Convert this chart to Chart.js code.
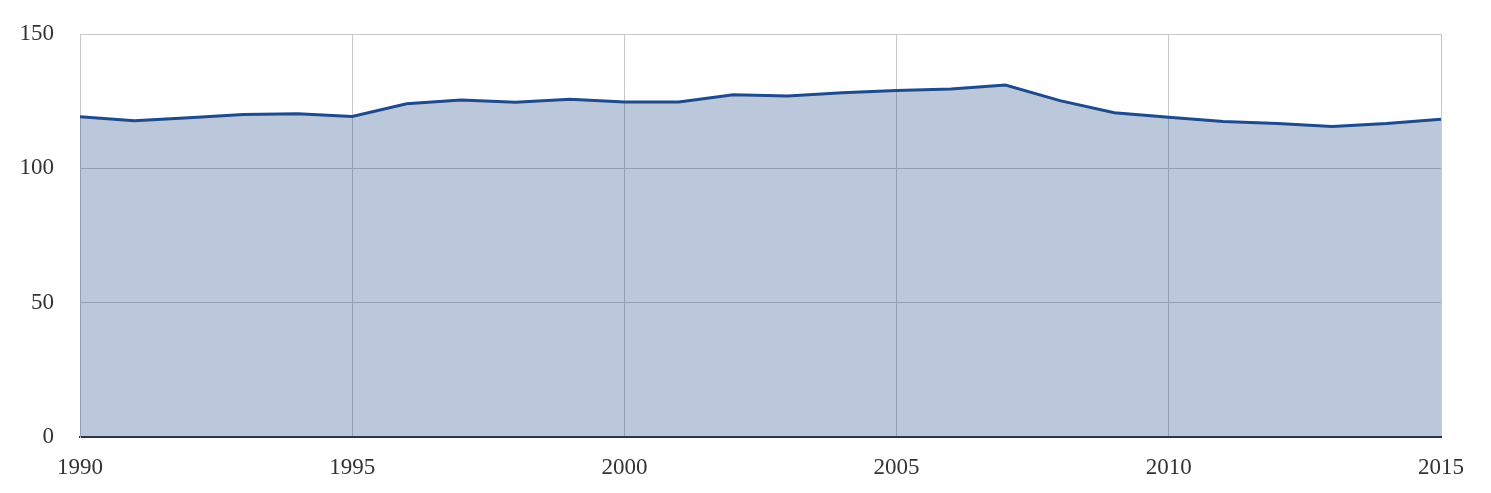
<!DOCTYPE html>
<html>
<head>
<meta charset="utf-8">
<script src="https://cdn.jsdelivr.net/npm/chart.js@4/dist/chart.umd.min.js"></script>
<style>
  html, body { margin: 0; padding: 0; background: #fff; }
  #wrap { width: 1491px; height: 493px; }
</style>
</head>
<body>
<div id="wrap"><canvas id="grafico_area"></canvas></div>
<script>
/* anos e valores */
const anos = [1990, 1991, 1992, 1993, 1994, 1995, 1996, 1997, 1998, 1999,
              2000, 2001, 2002, 2003, 2004, 2005, 2006, 2007, 2008, 2009,
              2010, 2011, 2012, 2013, 2014, 2015];
const valores = [119.2, 117.7, 118.8, 120.0, 120.3, 119.3, 124.0, 125.4, 124.6, 125.7,
                 124.7, 124.7, 127.4, 126.9, 128.1, 129.0, 129.5, 131.0, 125.2, 120.7,
                 119.0, 117.4, 116.7, 115.6, 116.7, 118.3];
const ticks_x = [1990, 1995, 2000, 2005, 2010, 2015];
const ticks_y = [0, 50, 100, 150];

const fonte = { family: "'Liberation Serif', 'DejaVu Serif', serif", size: 23 };

const data_area = {
  datasets: [{
    data: anos.map((a, i) => ({ x: a, y: valores[i] })),
    borderColor: '#1f4a8c',
    backgroundColor: 'rgba(31, 74, 140, 0.3)',
    borderWidth: 3,
    fill: 'origin',
    pointRadius: 0,
    tension: 0
  }]
};

const config_area = {
  type: 'line',
  data: data_area,
  options: {
    responsive: true,
    maintainAspectRatio: false,
    animation: false,
    layout: { padding: { top: 34, right: 50, left: 0, bottom: 0 } },
    plugins: { legend: { display: false }, tooltip: { enabled: false } },
    scales: {
      x: {
        type: 'linear',
        min: ticks_x[0],
        max: ticks_x[ticks_x.length - 1],
        afterBuildTicks: (eixo) => { eixo.ticks = ticks_x.map(v => ({ value: v })); },
        afterFit: (eixo) => { eixo.height = 56; eixo.paddingLeft = 0; eixo.paddingRight = 0; },
        ticks: { color: '#333', font: fonte, padding: 17, maxRotation: 0,
                 callback: (v) => String(v) },
        grid: { color: '#c8c8c8', lineWidth: 1, drawTicks: false },
        border: { color: '#333333', width: 2 }
      },
      y: {
        min: ticks_y[0],
        max: ticks_y[ticks_y.length - 1],
        afterBuildTicks: (eixo) => { eixo.ticks = ticks_y.map(v => ({ value: v })); },
        afterFit: (eixo) => { eixo.width = 80; eixo.paddingTop = 0; eixo.paddingBottom = 0; },
        ticks: { color: '#333', font: fonte, padding: 26 },
        grid: { color: '#c8c8c8', lineWidth: 1, drawTicks: false },
        border: { color: '#c8c8c8', width: 1 }
      }
    }
  }
};

const grafico_area = new Chart(document.getElementById('grafico_area'), config_area);
</script>
</body>
</html>
